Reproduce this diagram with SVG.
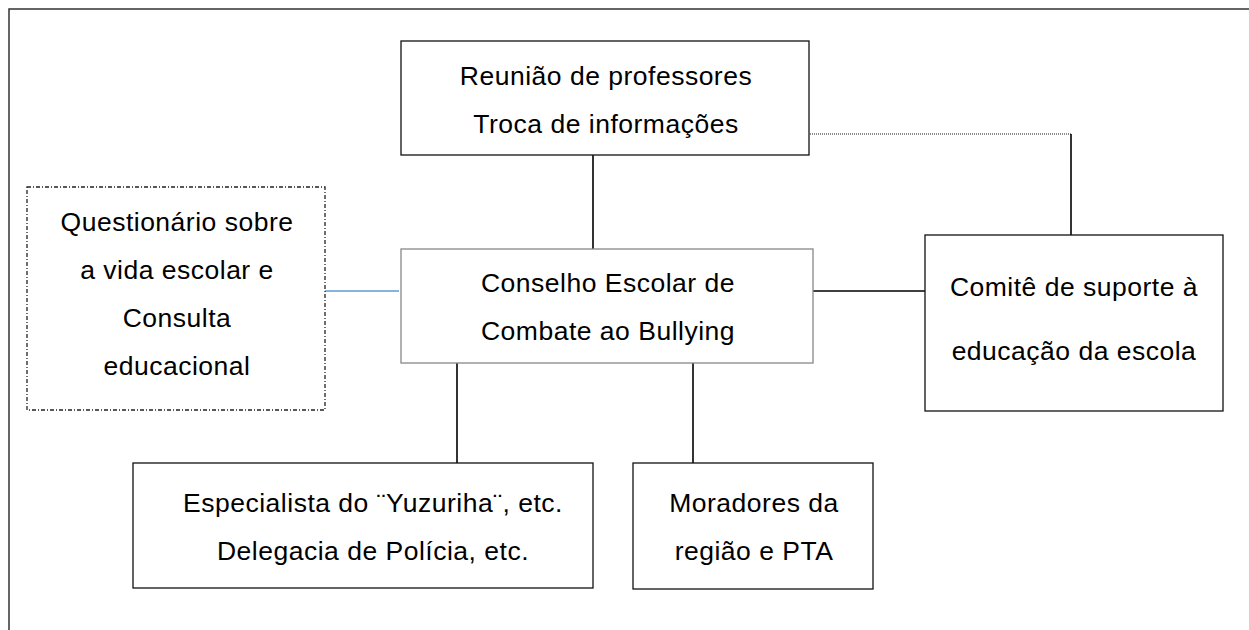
<svg xmlns="http://www.w3.org/2000/svg" width="1249" height="630" viewBox="0 0 1249 630">
<style>
.box{fill:#fff;stroke:#111;stroke-width:1.3}
.gbox{fill:#fff;stroke:#888;stroke-width:1.3}
.dbox{fill:#fff;stroke:#222;stroke-width:1.3;stroke-dasharray:4 2 1 2}
.t{font-family:"Liberation Sans",Arial,sans-serif;font-size:26.5px;letter-spacing:0.5px;fill:#000;text-anchor:middle}
.c{stroke:#000;stroke-width:1.6;fill:none}
</style>
<rect x="9" y="9" width="1260" height="650" fill="#fff" stroke="#333" stroke-width="1.5"/>
<g id="connectors">
<line class="c" x1="593" y1="155" x2="593" y2="249"/>
<line x1="810" y1="134" x2="1071" y2="134" stroke="#666" stroke-width="1.3" stroke-dasharray="1 1"/>
<line class="c" x1="1071" y1="134" x2="1071" y2="235"/>
<line x1="325" y1="291" x2="399" y2="291" stroke="#5b9bd5" stroke-width="1.5"/>
<line class="c" x1="810" y1="291" x2="925" y2="291"/>
<line class="c" x1="457" y1="363" x2="457" y2="463"/>
<line class="c" x1="693" y1="363" x2="693" y2="463"/>
</g>
<g id="reuniao">
<rect class="box" x="401" y="41" width="408" height="114"/>
<text class="t" x="606" y="85">Reunião de professores</text>
<text class="t" x="606" y="133">Troca de informações</text>
</g>
<g id="questionario">
<rect class="dbox" x="27" y="187" width="298" height="223"/>
<text class="t" x="177" y="231">Questionário sobre</text>
<text class="t" x="177" y="279">a vida escolar e</text>
<text class="t" x="177" y="327">Consulta</text>
<text class="t" x="177" y="375">educacional</text>
</g>
<g id="conselho">
<rect class="gbox" x="401" y="249" width="412" height="114"/>
<text class="t" x="608" y="292">Conselho Escolar de</text>
<text class="t" x="608" y="340">Combate ao Bullying</text>
</g>
<g id="comite">
<rect class="box" x="925" y="235" width="298" height="176"/>
<text class="t" x="1074" y="296">Comitê de suporte à</text>
<text class="t" x="1074" y="360">educação da escola</text>
</g>
<g id="especialista">
<rect class="box" x="133" y="463" width="460" height="125"/>
<text class="t" x="373" y="512">Especialista do ¨Yuzuriha¨, etc.</text>
<text class="t" x="373" y="560">Delegacia de Polícia, etc.</text>
</g>
<g id="moradores">
<rect class="box" x="633" y="463" width="240" height="126"/>
<text class="t" x="754" y="512">Moradores da</text>
<text class="t" x="754" y="560">região e PTA</text>
</g>
</svg>
